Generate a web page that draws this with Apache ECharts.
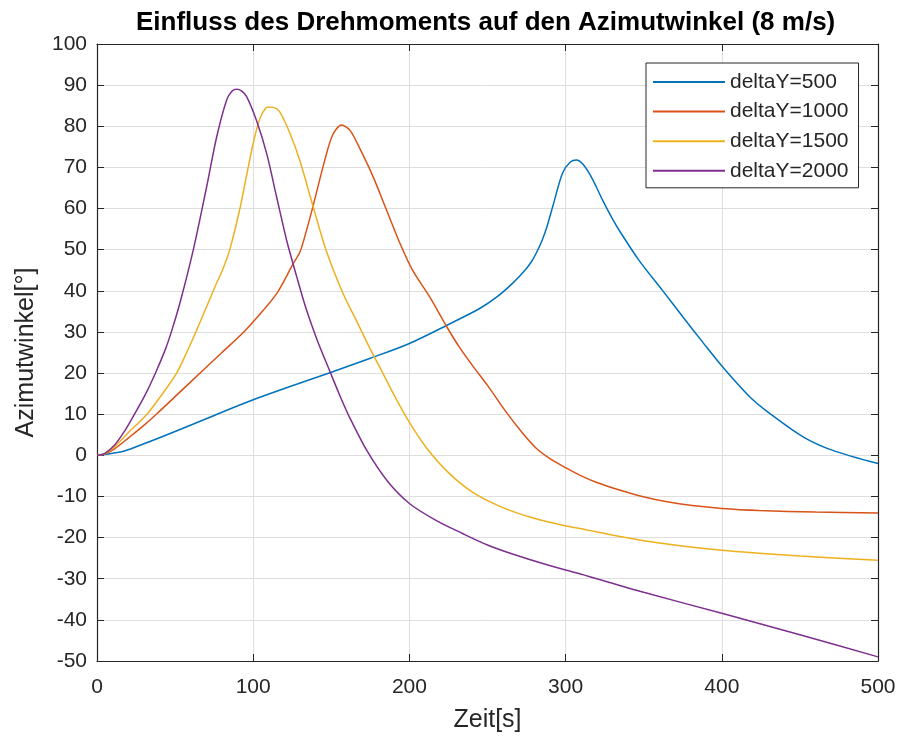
<!DOCTYPE html>
<html>
<head>
<meta charset="utf-8">
<script src="https://cdn.jsdelivr.net/npm/echarts@6/dist/echarts.min.js"></script>
<style>
  html, body { margin: 0; padding: 0; background: #fff; }
  #chart { width: 899px; height: 738px; }
</style>
</head>
<body>
<div id="chart"></div>
<script>
// Zeit [s] und Azimutwinkel [°] je deltaY
var t500  = [0, 5, 10, 17, 30, 50, 75, 100, 125, 150, 175, 200, 226, 245, 256, 266, 274, 278, 281, 285, 288, 292, 298, 303, 307, 311, 316, 320, 324, 330, 335, 347, 362, 375, 388, 401, 418, 431, 452, 471, 500];
var y500  = [0, 0.2, 0.5, 1, 2.8, 5.8, 9.7, 13.5, 16.9, 20.2, 23.6, 27.2, 32, 35.7, 38.5, 41.8, 45, 47, 49, 52.3, 55.5, 60.8, 68.6, 71.3, 71.8, 70.8, 68, 65, 61.8, 57.5, 54.3, 47.4, 40.1, 33.7, 27.4, 21.3, 14.2, 10.1, 4.5, 1.2, -2];

var t1000 = [0, 5, 11, 20, 30, 38, 52, 66, 80, 94, 102, 115, 125.6, 130, 134, 138.4, 146, 151, 156.6, 162, 169, 176.8, 185.4, 194, 202, 213, 224, 232, 241, 250, 262, 272, 281, 290, 300, 310, 320, 335, 349, 365, 381, 400, 424, 460, 500];
var y1000 = [0, 0.3, 1.5, 4.2, 7.3, 10, 15, 20, 25, 30, 33.3, 39.3, 46.6, 49.5, 54.5, 60.7, 72, 78, 80.3, 79, 74, 67.7, 59.6, 51.5, 45, 38.5, 31.2, 26.3, 21.5, 17, 10.5, 5.6, 1.8, -0.8, -3, -5, -6.6, -8.5, -10, -11.3, -12.2, -12.9, -13.4, -13.8, -14];

var t1500 = [0, 5, 11, 20, 32, 42, 51, 58, 65, 75, 80.8, 85, 91.5, 96, 101, 105, 109.6, 113, 117, 123.5, 130, 138.4, 147, 157.6, 166, 174.7, 183, 190, 200, 211, 225, 240.6, 258, 277, 296, 309, 349, 400, 450, 500];
var y1500 = [0, 0.4, 2, 5.5, 10, 15, 20, 25.5, 31.5, 40.5, 45.5, 50, 60, 68.5, 77.5, 82.5, 84.7, 84.6, 83.5, 78.3, 71.5, 60.4, 49.5, 39.3, 32.8, 26, 20, 14.8, 8, 1.8, -4.2, -9, -12.4, -15, -16.8, -17.8, -20.7, -23.1, -24.5, -25.5];

var t2000 = [0, 5, 11, 17, 24, 31, 38, 44, 48, 53, 61.6, 70.2, 76.6, 83, 86.5, 89.4, 92.5, 95.8, 102, 108.6, 115, 121.4, 127.8, 134, 141, 149, 155.5, 162, 173, 186, 200, 217, 234, 250, 266, 287, 309, 350, 400, 450, 500];
var y2000 = [0, 0.5, 2.4, 5.5, 10, 14.8, 20.5, 26, 30.5, 36.9, 49.9, 65.3, 77.4, 86.4, 88.6, 89, 88.6, 87.2, 81.5, 73.4, 62.8, 52.3, 43.5, 35.5, 28, 20.5, 14.5, 9, 1, -6.3, -11.7, -15.8, -19, -21.8, -24, -26.5, -28.8, -33.3, -38.4, -43.6, -49];

var seriesNames = ['deltaY=500', 'deltaY=1000', 'deltaY=1500', 'deltaY=2000'];
var colors = ['#0072BD', '#D95319', '#EDB120', '#7E2F8E'];

function pairs(t, y) {
    var out = [];
    for (var i = 0; i < t.length; i++) out.push([t[i], y[i]]);
    return out;
}

var allData = [pairs(t500, y500), pairs(t1000, y1000), pairs(t1500, y1500), pairs(t2000, y2000)];
var font = 'Liberation Sans, Arial, Helvetica, sans-serif';
var axisColor = '#262626';

var series = [];
for (var i = 0; i < allData.length; i++) {
    series.push({
        name: seriesNames[i],
        type: 'line',
        data: allData[i],
        smooth: 0.3,
        showSymbol: false,
        symbol: 'none',
        lineStyle: { color: colors[i], width: 1.5 },
        itemStyle: { color: colors[i] }
    });
}

var option = {
    animation: false,
    backgroundColor: '#fff',
    title: {
        text: 'Einfluss des Drehmoments auf den Azimutwinkel (8 m/s)',
        left: 136,
        top: 10,
        padding: 0,
        textStyle: { fontFamily: font, fontSize: 26, fontWeight: 'bold', color: '#000' }
    },
    legend: {
        orient: 'vertical',
        left: 646,
        top: 63,
        padding: [8, 10, 6, 7],
        itemGap: 7.6,
        itemWidth: 72,
        itemHeight: 2,
        icon: 'rect',
        selectedMode: false,
        backgroundColor: '#fff',
        borderColor: axisColor,
        borderWidth: 1,
        textStyle: { fontFamily: font, fontSize: 21, color: axisColor, lineHeight: 22 },
        data: seriesNames
    },
    grid: {
        left: 97, top: 44, right: 21, bottom: 77,
        containLabel: false,
        outerBoundsMode: 'none'
    },
    xAxis: [{
        type: 'value',
        min: 0, max: 500, interval: 100,
        name: 'Zeit[s]',
        nameLocation: 'middle',
        nameGap: 47,
        nameTextStyle: { fontFamily: font, fontSize: 25, color: axisColor },
        axisLine: { show: true, onZero: false, lineStyle: { color: axisColor, width: 1.2 } },
        axisTick: { show: true, inside: true, length: 7, lineStyle: { color: axisColor } },
        axisLabel: { fontFamily: font, fontSize: 21, color: axisColor, margin: 16, showMinLabel: true, showMaxLabel: true },
        splitLine: { show: true, lineStyle: { color: '#dedede', width: 1 } }
    }, {
        type: 'value',
        position: 'top',
        min: 0, max: 500, interval: 100,
        axisLine: { show: true, onZero: false, lineStyle: { color: axisColor, width: 1.2 } },
        axisTick: { show: true, inside: true, length: 7, lineStyle: { color: axisColor } },
        axisLabel: { show: false },
        splitLine: { show: false }
    }],
    yAxis: [{
        type: 'value',
        min: -50, max: 100, interval: 10,
        name: 'Azimutwinkel[°]',
        nameLocation: 'middle',
        nameGap: 58,
        nameTextStyle: { fontFamily: font, fontSize: 25, color: axisColor },
        axisLine: { show: true, onZero: false, lineStyle: { color: axisColor, width: 1.2 } },
        axisTick: { show: true, inside: true, length: 7, lineStyle: { color: axisColor } },
        axisLabel: { fontFamily: font, fontSize: 21, color: axisColor, margin: 10, showMinLabel: true, showMaxLabel: true },
        splitLine: { show: true, lineStyle: { color: '#dedede', width: 1 } }
    }, {
        type: 'value',
        position: 'right',
        min: -50, max: 100, interval: 10,
        axisLine: { show: true, onZero: false, lineStyle: { color: axisColor, width: 1.2 } },
        axisTick: { show: true, inside: true, length: 7, lineStyle: { color: axisColor } },
        axisLabel: { show: false },
        splitLine: { show: false }
    }],
    series: series
};

var myChart = echarts.init(document.getElementById('chart'), null, { renderer: 'canvas' });
myChart.setOption(option);
</script>
</body>
</html>
